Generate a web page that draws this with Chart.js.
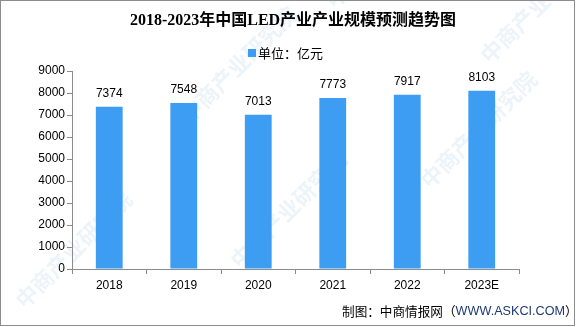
<!DOCTYPE html>
<html>
<head>
<meta charset="utf-8">
<script src="https://cdn.jsdelivr.net/npm/chart.js@4.4.1/dist/chart.umd.min.js"></script>
<style>
  html, body { margin: 0; padding: 0; background: #fff; }
  #wrap { position: relative; width: 585px; height: 327px; }
</style>
</head>
<body>
<div id="wrap"><canvas id="chart" width="585" height="327"></canvas></div>
<script>
// chart data
const years = ['2018', '2019', '2020', '2021', '2022', '2023E'];
const scaleValues = [7374, 7548, 7013, 7773, 7917, 8103];
const seriesName = '单位：亿元';
const chartTitle = '2018-2023年中国LED产业产业规模预测趋势图';
const sourceNote = ['制图：中商情报网（', 'WWW.ASKCI.COM', '）'];

const barColor = '#3d9df2';

// footer text, fitted between x0 and x1
function drawFooter(ctx, x0, x1, y) {
    const fonts = ['"Noto Sans CJK SC"', '"Liberation Sans"', '"Noto Sans CJK SC"'];
    const widthAt = size => sourceNote.reduce((w, s, i) => {
        ctx.font = size + 'px ' + fonts[i];
        return w + ctx.measureText(s).width;
    }, 0);
    const size = 13 * (x1 - x0) / widthAt(13);
    let x = x0;
    sourceNote.forEach((s, i) => {
        ctx.font = size + 'px ' + fonts[i];
        ctx.fillStyle = i === 1 ? '#1f3b73' : '#000';
        ctx.fillText(s, x, i === 1 ? y + 1 : y);
        x += ctx.measureText(s).width;
    });
}

// faint watermarks, frame, title, legend, footer
const decorPlugin = {
    id: 'decor',
    beforeDraw(chart) {
        const ctx = chart.ctx;
        ctx.save();
        ctx.fillStyle = '#fff';
        ctx.fillRect(0, 0, chart.width, chart.height);
        // watermarks
        ctx.font = 'bold 22px "Noto Sans CJK SC"';
        ctx.fillStyle = 'rgba(160,200,232,0.2)';
        const marks = [[190, 125], [335, 10], [25, 310], [240, 270], [430, 190], [490, 65]];
        marks.forEach(([x, y]) => {
            ctx.save();
            ctx.translate(x, y);
            ctx.rotate(-Math.PI / 4);
            ctx.fillText('中商产业研究院', 0, 0);
            ctx.restore();
        });
        // frame
        ctx.strokeStyle = '#8c8c8c';
        ctx.lineWidth = 1;
        ctx.strokeRect(0.5, 0.5, 574, 325);
        ctx.restore();
    },
    afterDraw(chart) {
        const ctx = chart.ctx;
        ctx.save();
        // title
        ctx.fillStyle = '#000';
        ctx.textAlign = 'center';
        ctx.textBaseline = 'middle';
        ctx.font = 'bold 16px "Liberation Serif", "Noto Sans CJK SC"';
        ctx.fillText(chartTitle, 293, 21);
        // legend
        ctx.fillStyle = barColor;
        ctx.fillRect(248, 49, 8, 8);
        ctx.fillStyle = '#000';
        ctx.textAlign = 'left';
        ctx.font = '13px "Noto Sans CJK SC"';
        ctx.fillText(seriesName, 258, 53);
        // data labels
        ctx.textAlign = 'center';
        ctx.textBaseline = 'bottom';
        ctx.font = '12px "Liberation Sans", Arial';
        const meta = chart.getDatasetMeta(0);
        meta.data.forEach((bar, i) => {
            ctx.fillText(String(scaleValues[i]), bar.x, bar.y - 7);
        });
        // footer
        ctx.textBaseline = 'middle';
        ctx.textAlign = 'left';
        drawFooter(ctx, 342, 578, 311);
        ctx.restore();
    }
};

new Chart(document.getElementById('chart'), {
    type: 'bar',
    data: {
        labels: years,
        datasets: [{
            label: seriesName,
            data: scaleValues,
            backgroundColor: barColor,
            barPercentage: 0.72,
            categoryPercentage: 0.5
        }]
    },
    options: {
        responsive: false,
        animation: false,
        devicePixelRatio: 1,
        layout: { padding: { top: 71, right: 66, left: 0, bottom: 0 } },
        plugins: {
            legend: { display: false },
            title: { display: false },
            tooltip: { enabled: false }
        },
        scales: {
            x: {
                afterFit(scale) { scale.height = 58; },
                grid: {
                    display: true,
                    drawOnChartArea: false,
                    drawTicks: true,
                    tickLength: 5,
                    offset: true,
                    color: '#8c8c8c'
                },
                border: { color: '#8c8c8c' },
                ticks: {
                    color: '#000',
                    font: { family: '"Liberation Sans", Arial', size: 12 },
                    padding: 4
                }
            },
            y: {
                min: 0,
                max: 9000,
                afterFit(scale) { scale.width = 72; },
                grid: {
                    display: true,
                    drawOnChartArea: false,
                    drawTicks: true,
                    tickLength: 5,
                    color: '#8c8c8c'
                },
                border: { color: '#8c8c8c' },
                ticks: {
                    stepSize: 1000,
                    color: '#000',
                    font: { family: '"Liberation Sans", Arial', size: 12 },
                    padding: 2,
                    callback: v => String(v)
                }
            }
        }
    },
    plugins: [decorPlugin]
});
</script>
</body>
</html>
